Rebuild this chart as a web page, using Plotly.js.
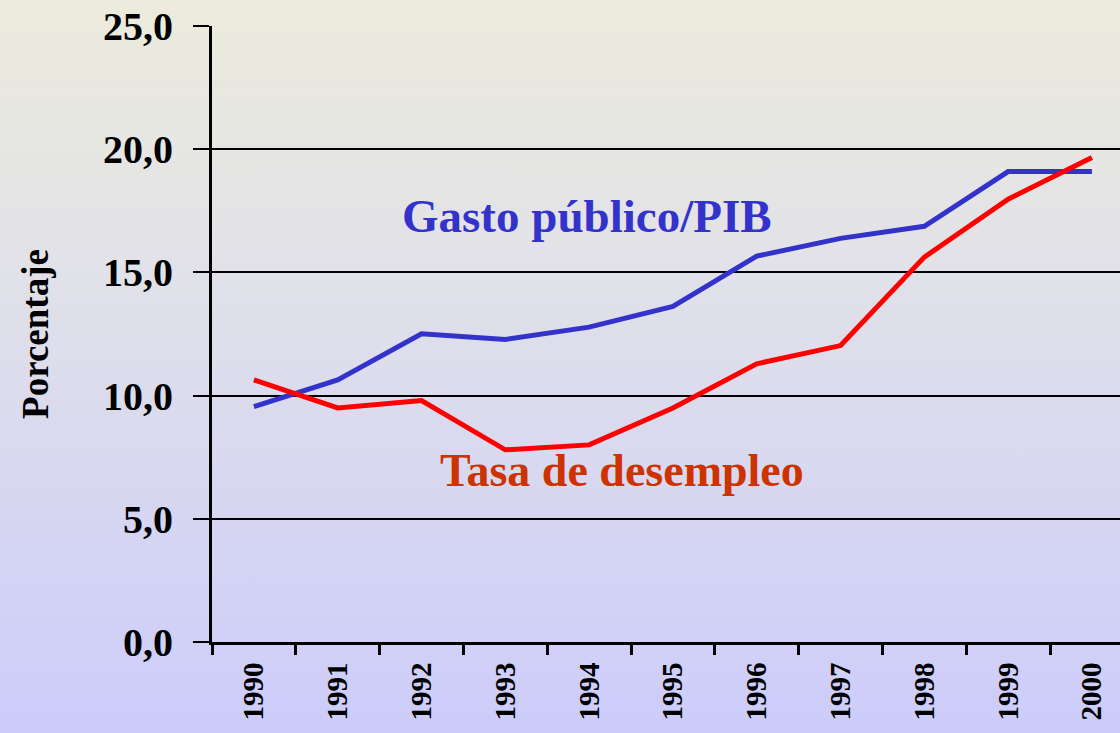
<!DOCTYPE html>
<html>
<head>
<meta charset="utf-8">
<script src="https://cdn.plot.ly/plotly-3.0.1.min.js"></script>
<style>
  html, body { margin: 0; padding: 0; }
  body { width: 1120px; height: 733px; overflow: hidden;
         background: linear-gradient(to bottom, #ecebdc 0%, #e2e2e8 35%, #d6d6f2 70%, #ccccfb 100%); }
  #chart { width: 1120px; height: 733px; }
</style>
</head>
<body>
<div id="chart"></div>
<script>
const years = ["1990","1991","1992","1993","1994","1995","1996","1997","1998","1999","2000"];
const gastoPublicoPIB = [9.55, 10.64, 12.51, 12.28, 12.78, 13.62, 15.66, 16.38, 16.87, 19.09, 19.09];
const tasaDesempleo   = [10.64, 9.50, 9.80, 7.80, 8.00, 9.50, 11.29, 12.03, 15.62, 17.97, 19.66];
const yTicks = [0, 5, 10, 15, 20, 25];

const SERIF = 'Liberation Serif';

const traces = [
  { x: years, y: gastoPublicoPIB, type: 'scatter', mode: 'lines', name: 'Gasto público/PIB',
    line: { color: '#3333cc', width: 5 } },
  { x: years, y: tasaDesempleo, type: 'scatter', mode: 'lines', name: 'Tasa de desempleo',
    line: { color: '#ff0000', width: 5 } }
];

const layout = {
  width: 1120, height: 733,
  margin: { l: 212, r: 0, t: 26, b: 91, pad: 0 },
  paper_bgcolor: 'rgba(0,0,0,0)',
  plot_bgcolor: 'rgba(0,0,0,0)',
  showlegend: false,
  separators: ',.',
  font: { family: SERIF },
  xaxis: {
    type: 'category',
    range: [-0.5, 10.335],
    showgrid: false,
    zeroline: false,
    showline: true, linecolor: '#000', linewidth: 3,
    ticks: 'outside', tickson: 'boundaries', ticklen: 10, tickwidth: 3, tickcolor: '#000',
    tickangle: -90,
    ticklabelstandoff: 6,
    tickfont: { family: SERIF, size: 29, color: '#000', weight: 'bold' },
    fixedrange: true
  },
  yaxis: {
    range: [0, 25],
    tickvals: yTicks,
    tickformat: '.1f',
    showgrid: true, gridcolor: '#000', gridwidth: 2,
    zeroline: false,
    showline: true, linecolor: '#000', linewidth: 3,
    ticks: 'outside', ticklen: 16, tickwidth: 2, tickcolor: '#000',
    ticklabelstandoff: 12,
    tickfont: { family: SERIF, size: 40, color: '#000', weight: 'bold' },
    fixedrange: true
  },
  annotations: [
    { text: '<b>Gasto público/PIB</b>', xref: 'paper', yref: 'paper', x: 0.413, y: 0.6916,
      xanchor: 'center', yanchor: 'middle', showarrow: false,
      font: { family: SERIF, size: 47, color: '#3333cc' } },
    { text: '<b>Tasa de desempleo</b>', xref: 'paper', yref: 'paper', x: 0.452, y: 0.2776,
      xanchor: 'center', yanchor: 'middle', showarrow: false,
      font: { family: SERIF, size: 46, color: '#cc3300' } },
    { text: '<b>Porcentaje</b>', xref: 'paper', yref: 'paper', x: -0.195, y: 0.50,
      xanchor: 'center', yanchor: 'middle', showarrow: false, textangle: -90,
      font: { family: SERIF, size: 37, color: '#000' } }
  ]
};

Plotly.newPlot('chart', traces, layout, { staticPlot: true, displayModeBar: false });
</script>
</body>
</html>
